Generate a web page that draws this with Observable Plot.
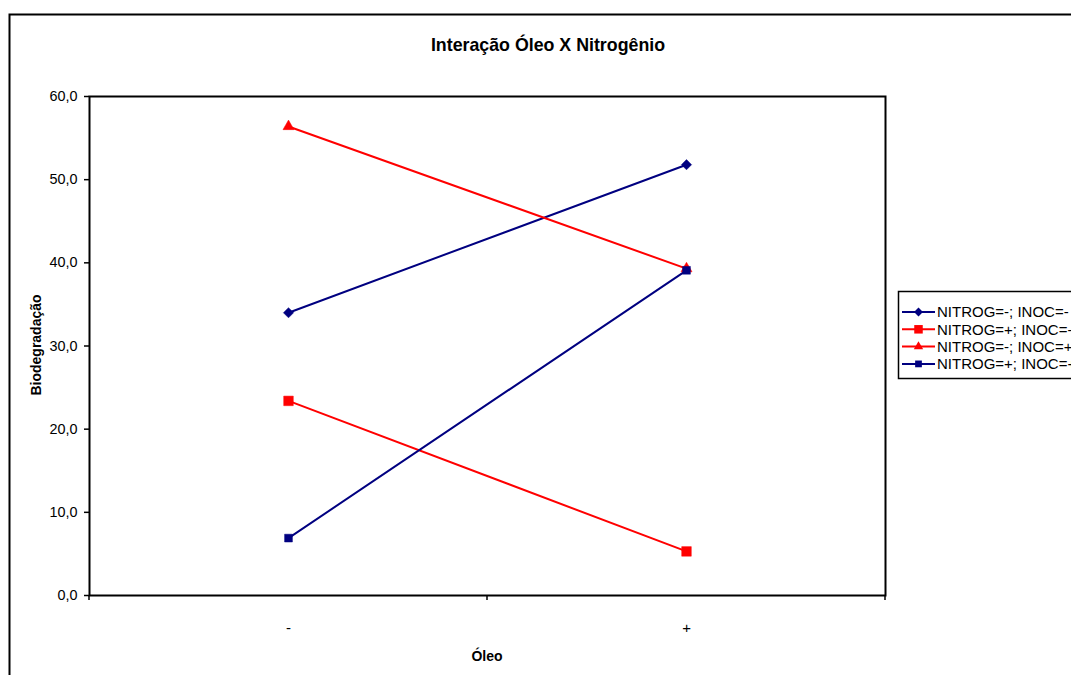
<!DOCTYPE html>
<html>
<head>
<meta charset="utf-8">
<script src="https://cdn.jsdelivr.net/npm/d3@7"></script>
<script src="https://cdn.jsdelivr.net/npm/@observablehq/plot@0.6"></script>
<style>
  html, body { margin: 0; padding: 0; background: #fff; }
  svg { font-family: "Liberation Sans", Arial, sans-serif; display: block; }
</style>
</head>
<body>
<div id="chart"></div>
<script>
// Levels of the oil factor on the x axis
const categories = ["-", "+"];

// Series (nitrogen / inoculum combinations)
const seriesNames = [
  "NITROG=-; INOC=-",
  "NITROG=+; INOC=-",
  "NITROG=-; INOC=+",
  "NITROG=+; INOC=+"
];
const seriesColors = ["#000080", "#FF0000", "#FF0000", "#000080"];
const seriesSymbols = ["diamond2", "square", "triangle", "square"];

// Biodegradation values per series, in category order
const nitroMinusInocMinus = [34.0, 51.8];
const nitroPlusInocMinus = [23.4, 5.3];
const nitroMinusInocPlus = [56.4, 39.3];
const nitroPlusInocPlus = [6.9, 39.1];

const yTicks = [0, 10, 20, 30, 40, 50, 60];

const seriesValues = [nitroMinusInocMinus, nitroPlusInocMinus, nitroMinusInocPlus, nitroPlusInocPlus];
const data = seriesNames.flatMap((s, i) =>
  categories.map((c, j) => ({series: s, oleo: c, value: seriesValues[i][j]}))
);

const fmt = d => d.toFixed(1).replace(".", ",");
const markerR = [4.6, 5.4, 4.1, 4.4];

const chart = Plot.plot({
  width: 1071,
  height: 675,
  marginLeft: 89,
  marginRight: 186,
  marginTop: 96,
  marginBottom: 80,
  style: {fontFamily: "'Liberation Sans', Arial, sans-serif", fontSize: "14px", color: "#000"},
  x: {type: "point", domain: categories, padding: 0.5},
  y: {domain: [0, 60]},
  color: {domain: seriesNames, range: seriesColors},
  symbol: {domain: seriesNames, range: seriesSymbols},
  marks: [
    Plot.frame({stroke: "#000", strokeWidth: 2}),
    Plot.axisY({ticks: yTicks, tickFormat: fmt, tickSize: 5, tickPadding: 7, label: null, fontSize: 14.4, strokeWidth: 1.5}),
    Plot.axisX({tickSize: 0, tickPadding: 27, label: null, fontSize: 15}),
    Plot.lineY(data, {x: "oleo", y: "value", z: "series", stroke: "series", strokeWidth: 2}),
    ...seriesNames.map((s, i) =>
      Plot.dot(data.filter(d => d.series === s), {
        x: "oleo", y: "value", symbol: "series", fill: "series", stroke: "series",
        strokeWidth: 0.5, r: markerR[i]
      })
    )
  ]
});

document.getElementById("chart").append(chart);

const svg = d3.select(chart);
const xs = chart.scale("x");
const ys = chart.scale("y");
const [x0, x1] = xs.range;
const y0 = ys.apply(0);

// Category boundary ticks below the x axis
const step = (x1 - x0) / categories.length;
d3.range(categories.length + 1).forEach(i => {
  svg.append("line")
    .attr("x1", x0 + i * step).attr("x2", x0 + i * step)
    .attr("y1", y0).attr("y2", y0 + 5)
    .attr("stroke", "#000").attr("stroke-width", 1.5);
});

// Outer chart border
svg.append("rect")
  .attr("x", 9.5).attr("y", 14.5)
  .attr("width", 1100).attr("height", 700)
  .attr("fill", "none").attr("stroke", "#000").attr("stroke-width", 2);

// Title
svg.append("text")
  .attr("x", 548).attr("y", 51)
  .attr("text-anchor", "middle")
  .attr("font-weight", "bold").attr("font-size", 17.8)
  .text("Interação Óleo X Nitrogênio");

// Axis titles
svg.append("text")
  .attr("transform", "translate(41,345) rotate(-90)")
  .attr("text-anchor", "middle")
  .attr("font-weight", "bold").attr("font-size", 14)
  .text("Biodegradação");

svg.append("text")
  .attr("x", (x0 + x1) / 2).attr("y", 661)
  .attr("text-anchor", "middle")
  .attr("font-weight", "bold").attr("font-size", 14)
  .text("Óleo");

// Legend
const legendSymbols = {diamond2: d3.symbolDiamond2, square: d3.symbolSquare, triangle: d3.symbolTriangle};
const lg = svg.append("g").attr("transform", "translate(898,291)");
lg.append("rect")
  .attr("x", 0.5).attr("y", 0.5).attr("width", 200).attr("height", 87)
  .attr("fill", "#fff").attr("stroke", "#000").attr("stroke-width", 1.5);
seriesNames.forEach((s, i) => {
  const cy = 21 + i * 17.3;
  const g = lg.append("g");
  g.append("line")
    .attr("x1", 4).attr("x2", 37).attr("y1", cy).attr("y2", cy)
    .attr("stroke", seriesColors[i]).attr("stroke-width", 2);
  g.append("path")
    .attr("transform", `translate(20.5,${cy})`)
    .attr("d", d3.symbol().type(legendSymbols[seriesSymbols[i]]).size(Math.PI * (markerR[i] - 0.6) ** 2)())
    .attr("fill", seriesColors[i]);
  g.append("text")
    .attr("x", 39).attr("y", cy).attr("dy", "0.36em")
    .attr("text-anchor", "start")
    .attr("font-size", 15)
    .text(s);
});
</script>
</body>
</html>
